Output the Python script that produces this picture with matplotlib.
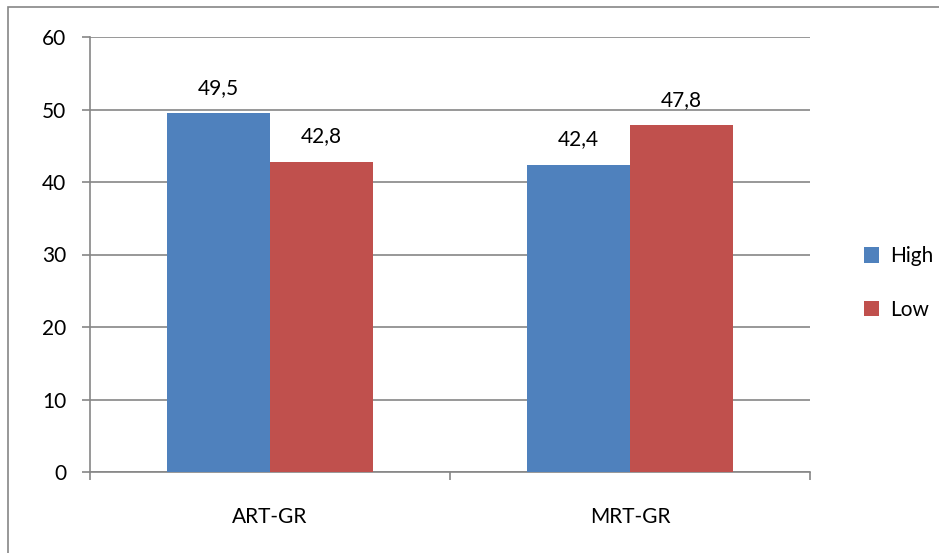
import matplotlib.pyplot as plt
from matplotlib.patches import Rectangle
import numpy as np

categories = ["ART-GR", "MRT-GR"]
series_names = ["High", "Low"]
high = [49.5, 42.4]
low = [42.8, 47.8]
colors = ["#4F81BD", "#C0504D"]

plt.rcParams['font.family'] = ['Lato', 'DejaVu Sans']

W, H = 939, 553
fig = plt.figure(figsize=(W / 100, H / 100), dpi=100)
ax = fig.add_axes([90 / W, 1 - 472 / H, 720 / W, 435 / H])

x = np.arange(len(categories))
bw = 103 / 360
for i, (vals, c, name) in enumerate(zip([high, low], colors, series_names)):
    pos = x + (i - 0.5) * bw
    bars = ax.bar(pos, vals, width=bw, color=c, label=name, zorder=3)
    for b, v in zip(bars, vals):
        ax.annotate(f"{v:.1f}".replace(".", ","), (b.get_x() + b.get_width() / 2, v),
                    xytext=(0, 11), textcoords="offset points",
                    ha="center", va="bottom", fontsize=15, color="black")

ax.set_xlim(-0.5, 1.5)
ax.set_ylim(0, 60)
ax.set_yticks(range(0, 61, 10))
ax.yaxis.grid(True, color="#868686", linewidth=1.2, zorder=0)
ax.set_axisbelow(True)
for s in ["top", "right"]:
    ax.spines[s].set_visible(False)
for s in ["left", "bottom"]:
    ax.spines[s].set_color("#868686")
    ax.spines[s].set_linewidth(1.2)
ax.tick_params(axis="y", length=6, width=1.2, color="#868686", labelsize=15, pad=11)
ax.set_xticks([-0.5, 0.5, 1.5])
ax.set_xticklabels([])
ax.tick_params(axis="x", length=6, width=1.2, color="#868686")
for xi, name in zip(x, categories):
    ax.text(xi, -6.2, name, ha="center", va="center", fontsize=15,
            transform=ax.transData, clip_on=False)

ax.legend(loc="center left", bbox_to_anchor=(845 / W, 1 - 283 / H),
          bbox_transform=fig.transFigure, frameon=False, fontsize=15,
          handlelength=0.75, handleheight=0.75, handletextpad=0.5, labelspacing=1.6)

fig.patches.append(Rectangle((8 / W, -0.1), 1.2, 1 - 7 / H + 0.1, transform=fig.transFigure,
                             fill=False, edgecolor="#868686", linewidth=1.2))

fig.savefig("out.png", dpi=100)
